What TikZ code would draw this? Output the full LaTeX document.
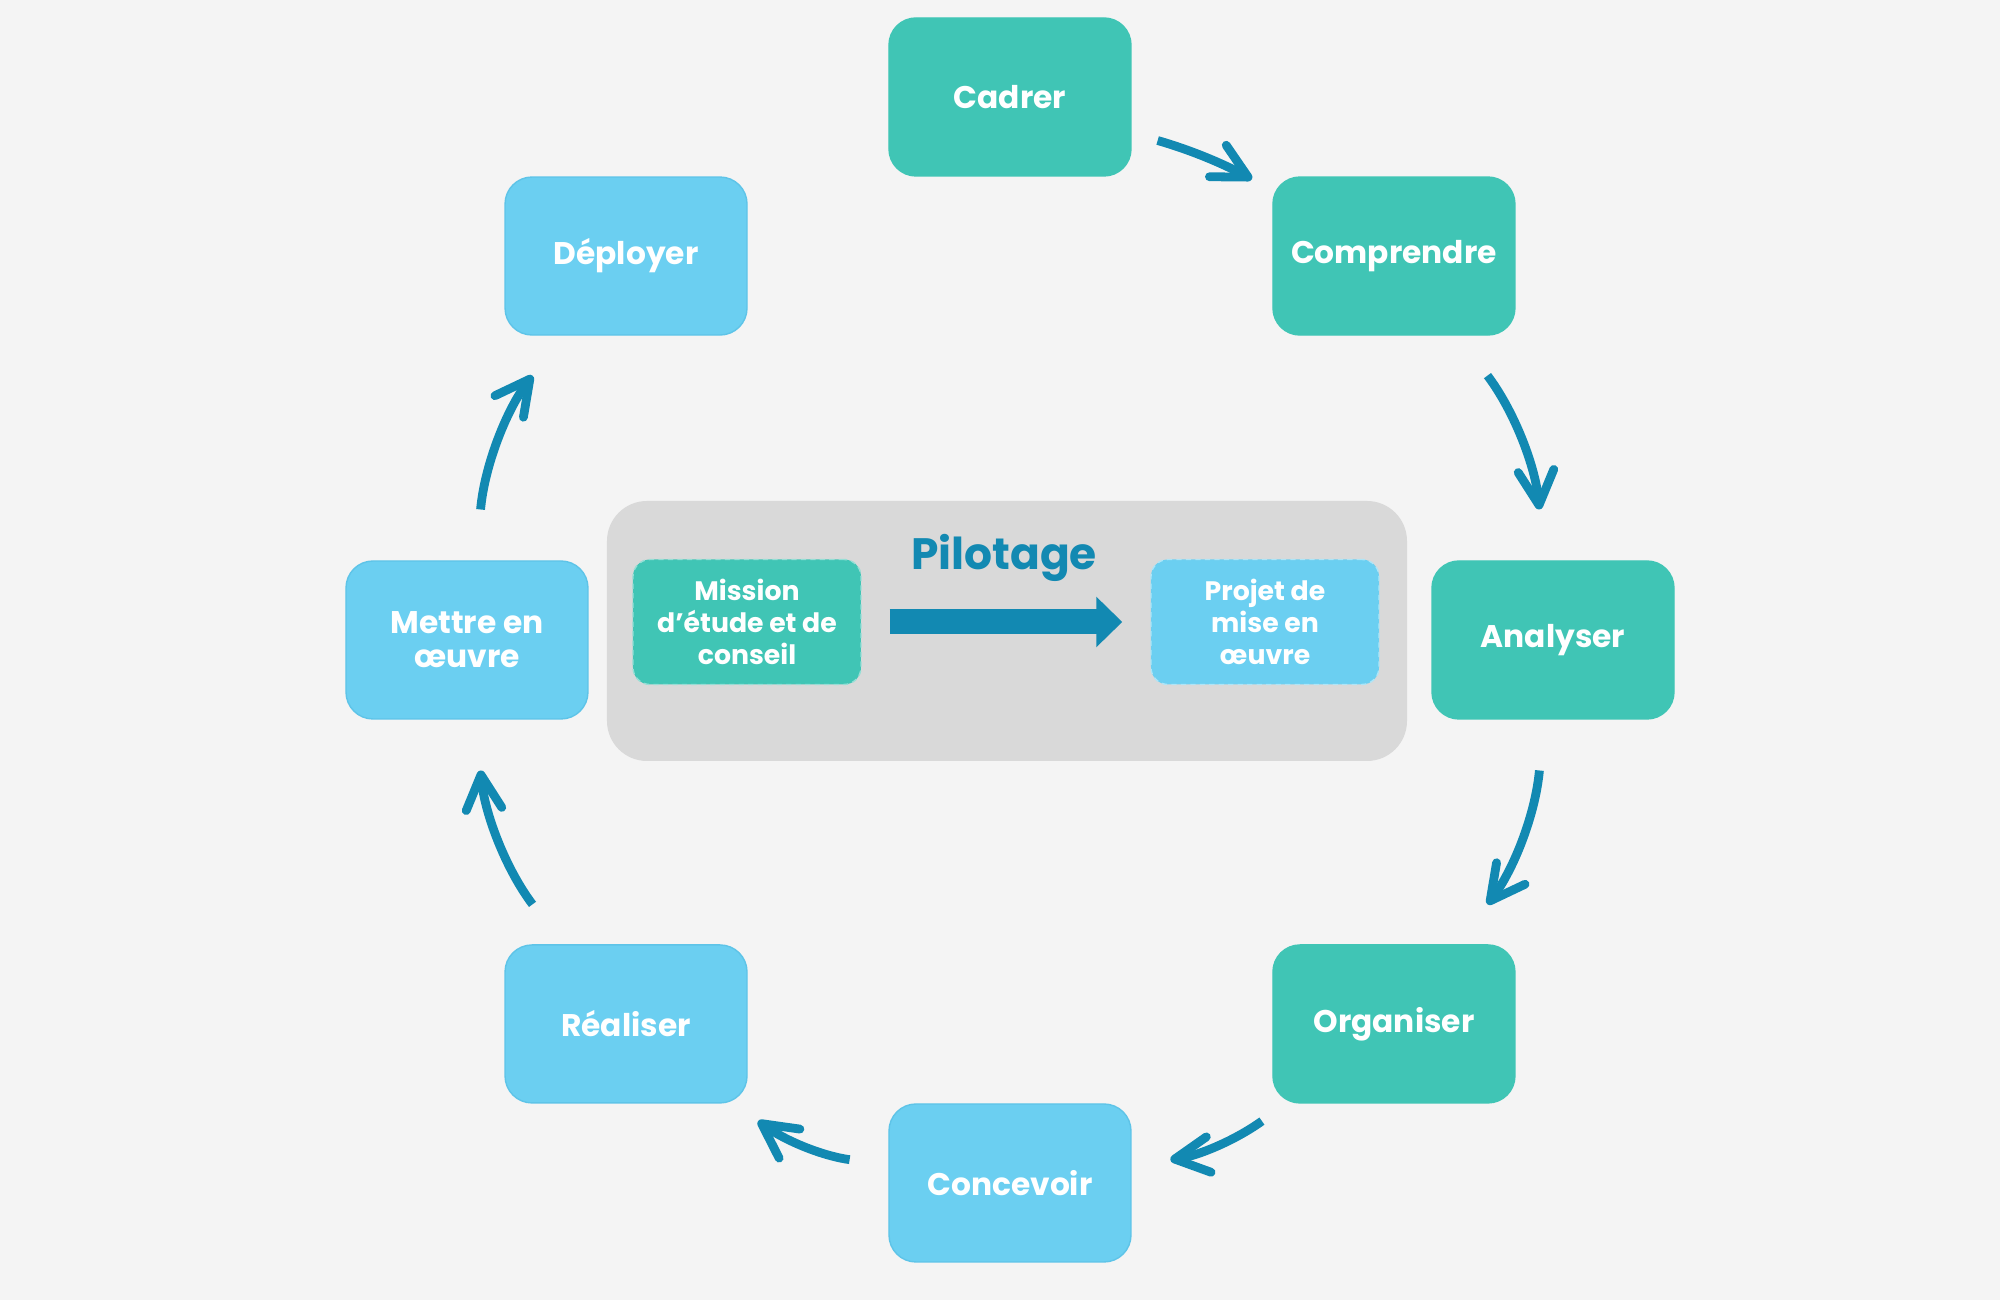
\documentclass[tikz,border=0pt]{standalone}
\usepackage{fontspec}
\setmainfont{Poppins}
\usepackage{tikz}
\usetikzlibrary{
  arrows.meta, % for Straight Barb and Triangle arrow tips
  positioning, % for relative positioning of the inner boxes
}
\definecolor{fond}{HTML}{F4F4F4}
\definecolor{vert}{HTML}{40C5B5}
\definecolor{bleuclair}{HTML}{6BCFF1}
\definecolor{bleu}{HTML}{1289B2}
\definecolor{gris}{HTML}{D9D9D9}
\tikzset{
  phase/.style={ % style for each step of the cycle
    rectangle,rounded corners=0.27cm, % rounded box
    minimum width=2.42cm,minimum height=1.58cm, % same size for every step
    text=white,align=center,
    font=\bfseries\fontsize{8.9}{9.6}\selectfont,
  },
  etude/.style={ % steps of the study mission
    phase,fill=vert,draw=vert,
  },
  oeuvre/.style={ % steps of the implementation
    phase,fill=bleuclair,draw=bleuclair!85!bleu,thin,
  },
  bloc/.style={ % dashed boxes inside the panel
    rectangle,rounded corners=0.17cm,
    minimum width=2.28cm,minimum height=1.25cm,
    text=white,align=center,
    dashed,dash pattern=on 1.5pt off 1.2pt,thin,
    font=\bfseries\fontsize{7.6}{9}\selectfont,
  },
  flux/.style={ % curved arrows between the steps
    -{Straight Barb[angle=55:11pt,round]},
    line width=2.5pt,draw=bleu,
  },
  pilote/.style={ % large arrow of the panel
    -{Triangle[length=2.6mm 0,width=4.9mm 0]},
    line width=0.25cm,draw=bleu,
  },
}
\begin{document}
\begin{tikzpicture}
	\fill[fond] (-10.10,-6.60) rectangle (9.90,6.40);
	
	% the cycle
	\node[etude] (cadrer) at (90:5.43) {Cadrer};
	\node[etude] (comprendre) at (45:5.43) {Comprendre};
	\node[etude] (analyser) at (0:5.43) {Analyser};
	\node[etude] (organiser) at (-45:5.43) {Organiser};
	\node[oeuvre] (concevoir) at (-90:5.43) {Concevoir};
	\node[oeuvre] (realiser) at (-135:5.43) {Réaliser};
	\node[oeuvre] (mettre) at (180:5.43) {Mettre en\\œuvre};
	\node[oeuvre] (deployer) at (135:5.43) {Déployer};
	
	% the panel in the middle
	\node[rectangle,rounded corners=0.4cm,fill=gris,minimum width=8cm,minimum height=2.6cm] (panneau) at (-0.03,0.09) {};
	\node[bloc,fill=vert,draw=vert!55!white,right=0.26cm of panneau.west,yshift=0.09cm] (mission) {Mission\\d’étude et de\\conseil};
	\node[bloc,fill=bleuclair,draw=bleuclair!55!white,left=0.28cm of panneau.east,yshift=0.09cm] (projet) {Projet de\\mise en\\œuvre};
	\node[text=bleu,font=\bfseries\fontsize{12.5}{14}\selectfont] (titre) at (-0.06,0.82) {Pilotage};
	\draw[pilote,shorten <=0.28cm,shorten >=0.28cm] (mission) -- (projet);
	
	\draw[flux,shorten <=0.27cm,shorten >=0.23cm] (cadrer) to[bend left=6] (comprendre);
	\draw[flux,shorten <=0.50cm,shorten >=0.51cm] (comprendre) to[bend left=16] (analyser);
	\draw[flux,shorten <=0.51cm,shorten >=0.50cm] (analyser) to[bend left=16] (organiser);
	\draw[flux,shorten <=0.30cm,shorten >=0.39cm] (organiser) to[bend left=14] (concevoir);
	\draw[flux,shorten <=0.39cm,shorten >=0.30cm] (concevoir) to[bend left=14] (realiser);
	\draw[flux,shorten <=0.50cm,shorten >=0.51cm] (realiser) to[bend left=16] (mettre);
	\draw[flux,shorten <=0.51cm,shorten >=0.50cm] (mettre) to[bend left=16] (deployer);
\end{tikzpicture}
\end{document}
